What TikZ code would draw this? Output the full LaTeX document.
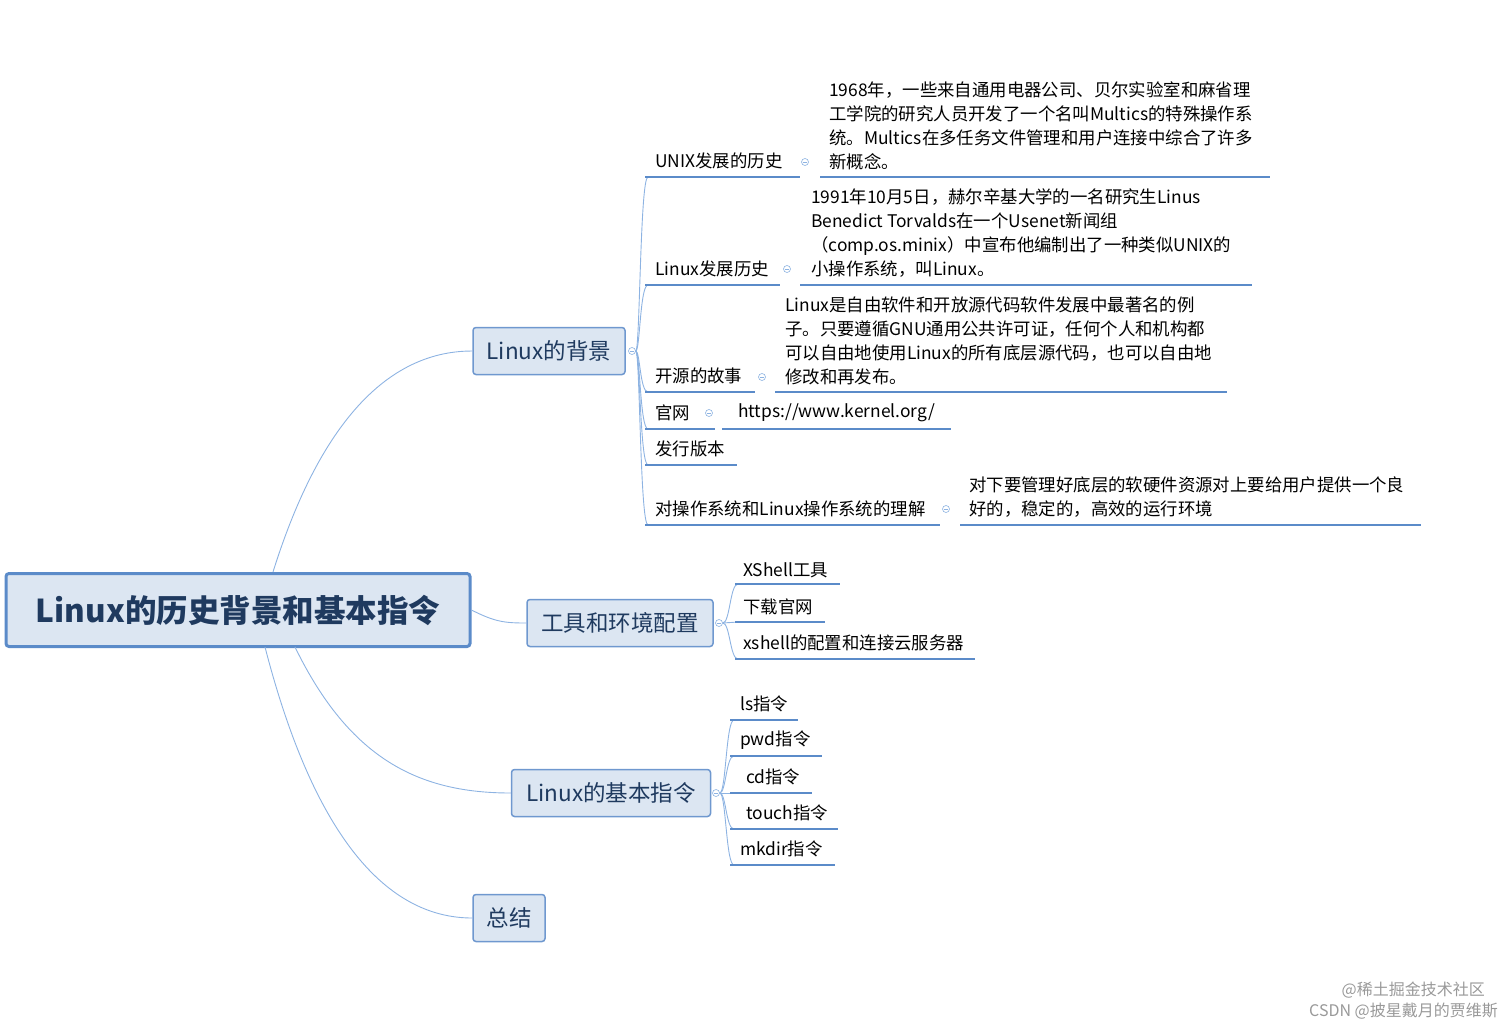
\documentclass[tikz,border=0pt]{standalone}
\usepackage{fontspec}
\setmainfont{Noto Sans CJK SC}
\begin{document}
\begin{tikzpicture}[x=1pt,y=-1pt,
  box/.style={draw=boxb,fill=boxf,rounded corners=3pt,line width=1.5pt,text=txt,inner sep=0pt},
  lbl/.style={anchor=west,inner sep=0pt,text=black,font=\fontsize{17.4}{24}\selectfont,align=left},
  ul/.style={draw=ulc,line width=2pt},
  cv/.style={draw=cvc,line width=0.9pt},
  dot/.style={circle,draw=cvc,line width=0.6pt,inner sep=0pt,minimum size=7pt,fill=white,
    path picture={\draw[cvc,line width=0.6pt] ([xshift=-2pt]path picture bounding box.center) -- ([xshift=2pt]path picture bounding box.center);}}]
\definecolor{boxb}{HTML}{6F98CF}
\definecolor{boxf}{HTML}{DCE6F2}
\definecolor{txt}{HTML}{1F3A5F}
\definecolor{ulc}{HTML}{5B8BC9}
\definecolor{cvc}{HTML}{8DB3E2}
\useasboundingbox (0,0) rectangle (1512,1028);
% main
\node[box,line width=3pt,draw=ulc,minimum width=464pt,minimum height=73pt,font=\bfseries\fontsize{31.5}{36}\selectfont] (root) at (238,610) {Linux的历史背景和基本指令};
\node[box,minimum width=152pt,minimum height=47pt,font=\fontsize{22.5}{26}\selectfont] (bg) at (549,351) {Linux的背景};
\node[box,minimum width=186pt,minimum height=47pt,font=\fontsize{22.5}{26}\selectfont] (tool) at (620,623) {工具和环境配置};
\node[box,minimum width=199pt,minimum height=47pt,font=\fontsize{22.5}{26}\selectfont] (cmd) at (611,793) {Linux的基本指令};
\node[box,minimum width=72pt,minimum height=47pt,font=\fontsize{22.5}{26}\selectfont] (sum) at (509,918) {总结};
\draw[cv] (273,572) .. controls (330,390) and (410,351) .. (bg.west);
\draw[cv] (root.east) .. controls (495,622) and (505,623) .. (tool.west);
\draw[cv] (295,647) .. controls (350,760) and (420,793) .. (cmd.west);
\draw[cv] (265,647) .. controls (320,860) and (400,918) .. (sum.west);
% bg branches
\node[dot,minimum size=7pt] (cb) at (632,351) {};
\foreach \y in {177,285,392,429,465,525} {
  \draw[cv] (cb.east) .. controls (640,351) and (640,\y) .. (648,\y);
}
\draw[ul] (645,177) -- (800,177); \node[lbl] (u1) at (655,161) {UNIX发展的历史};
\node[dot] (d1) at (805,162) {};
\draw[ul] (820,177) -- (1270,177);
\node[lbl] (t1) at (829,126) {1968年，一些来自通用电器公司、贝尔实验室和麻省理\\工学院的研究人员开发了一个名叫Multics的特殊操作系\\统。Multics在多任务文件管理和用户连接中综合了许多\\新概念。};
\draw[ul] (645,285) -- (780,285); \node[lbl] (u2) at (655,269) {Linux发展历史};
\node[dot] (d2) at (787,269) {};
\draw[ul] (800,285) -- (1252,285);
\node[lbl] (t2) at (811,233) {1991年10月5日，赫尔辛基大学的一名研究生Linus\\Benedict Torvalds在一个Usenet新闻组\\（comp.os.minix）中宣布他编制出了一种类似UNIX的\\小操作系统，叫Linux。};
\draw[ul] (645,392) -- (755,392); \node[lbl] (u3) at (655,376) {开源的故事};
\node[dot] (d3) at (762,377) {};
\draw[ul] (775,392) -- (1227,392);
\node[lbl] (t3) at (785,341) {Linux是自由软件和开放源代码软件发展中最著名的例\\子。只要遵循GNU通用公共许可证，任何个人和机构都\\可以自由地使用Linux的所有底层源代码，也可以自由地\\修改和再发布。};
\draw[ul] (645,429) -- (715,429); \node[lbl] (u4) at (655,413) {官网};
\node[dot] (d4) at (709,413) {};
\draw[ul] (722,429) -- (951,429);
\node[lbl] (t4) at (738,413) {https://www.kernel.org/};
\draw[ul] (645,465) -- (737,465); \node[lbl] (u5) at (655,449) {发行版本};
\draw[ul] (645,525) -- (940,525); \node[lbl] (u6) at (655,509) {对操作系统和Linux操作系统的理解};
\node[dot] (d6) at (946,509) {};
\draw[ul] (960,525) -- (1421,525);
\node[lbl] (t6) at (969,497) {对下要管理好底层的软硬件资源对上要给用户提供一个良\\好的，稳定的，高效的运行环境};
% tool branches
\node[dot] (ct) at (719,623) {};
\foreach \y in {584,622,659} {
  \draw[cv] (ct.east) .. controls (730,623) and (730,\y) .. (738,\y);
}
\draw[ul] (735,584) -- (840,584); \node[lbl] at (743,570) {XShell工具};
\draw[ul] (735,622) -- (825,622); \node[lbl] at (743,607) {下载官网};
\draw[ul] (735,659) -- (975,659); \node[lbl] at (743,643) {xshell的配置和连接云服务器};
% cmd branches
\node[dot] (cc) at (716,793) {};
\foreach \y in {720,756,793,829,865} {
  \draw[cv] (cc.east) .. controls (726,793) and (726,\y) .. (734,\y);
}
\draw[ul] (730,720) -- (798,720); \node[lbl] at (740,704) {ls指令};
\draw[ul] (730,756) -- (822,756); \node[lbl] at (740,740) {pwd指令};
\draw[ul] (730,793) -- (812,793); \node[lbl] at (746,777) {cd指令};
\draw[ul] (730,829) -- (838,829); \node[lbl] at (746,813) {touch指令};
\draw[ul] (730,865) -- (835,865); \node[lbl] at (740,849) {mkdir指令};
% watermark
\node[anchor=east,inner sep=0pt,text=gray!80,font=\fontsize{16}{18}\selectfont] (w1) at (1485,990) {@稀土掘金技术社区};
\node[anchor=east,inner sep=0pt,text=gray!80,font=\fontsize{16}{18}\selectfont] (w2) at (1498,1011) {CSDN @披星戴月的贾维斯};
\end{tikzpicture}
\end{document}
